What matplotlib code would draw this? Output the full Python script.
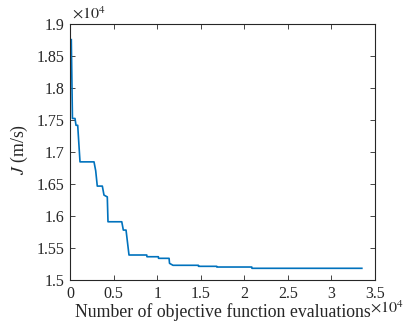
import matplotlib
matplotlib.use("Agg")
import matplotlib.pyplot as plt
import numpy as np

# Data: objective function evaluations vs best J (m/s)
evals = [150, 280, 574, 689, 884, 1148, 2755, 2950, 3130, 3710, 3900, 4280,
         4360, 5940, 6120, 6430, 6770, 8810, 8830, 10140, 10160, 11370, 11420,
         11820, 14730, 14750, 16840, 16860, 20860, 20880, 33490]
J = [18760, 17527, 17527, 17420, 17420, 16848, 16848, 16708, 16469, 16469,
     16328, 16300, 15911, 15911, 15781, 15781, 15391, 15391, 15364, 15364,
     15339, 15339, 15261, 15230, 15230, 15214, 15214, 15203, 15203, 15183, 15183]

xticks = [0, 0.5, 1, 1.5, 2, 2.5, 3, 3.5]
yticks = [1.5, 1.55, 1.6, 1.65, 1.7, 1.75, 1.8, 1.85, 1.9]
xticklabels = ["0", "0.5", "1", "1.5", "2", "2.5", "3", "3.5"]
yticklabels = ["1.5", "1.55", "1.6", "1.65", "1.7", "1.75", "1.8", "1.85", "1.9"]

plt.rcParams['font.family'] = ['Liberation Serif', 'DejaVu Serif']
plt.rcParams['mathtext.fontset'] = 'stix'

fig = plt.figure(figsize=(4.15, 3.32), dpi=100)
ax = fig.add_axes([70/415, 1-280/332, 305/415, (280-24.3)/332])

x = np.array(evals) / 1e4
y = np.array(J) / 1e4
ax.plot(x, y, color='#0072BD', lw=1.2)

ax.set_xlim(0, 3.5)
ax.set_ylim(1.5, 1.9)
ax.set_xticks(xticks)
ax.set_xticklabels(xticklabels)
ax.set_yticks(yticks)
ax.set_yticklabels(yticklabels)

fc = '#262626'
for s in ax.spines.values():
    s.set_color(fc)
    s.set_linewidth(0.8)
ax.tick_params(direction='in', top=True, right=True, length=3.5, width=0.6,
               color=fc, labelcolor=fc, labelsize=11.5, pad=4)

ax.set_xlabel("Number of objective function evaluations", fontsize=12.8,
              color=fc, labelpad=1)
ax.set_ylabel("$J$ (m/s)", fontsize=12.8, color=fc)
ax.yaxis.set_label_coords(-0.132, 0.51)

ax.text(0.005, 1.005, r"$\times10^{4}$", transform=ax.transAxes,
        fontsize=11.5, color=fc, ha='left', va='bottom')
ax.text(0.985, -0.08, r"$\times10^{4}$", transform=ax.transAxes,
        fontsize=11.5, color=fc, ha='left', va='top')

fig.savefig("out.png", dpi=100)
